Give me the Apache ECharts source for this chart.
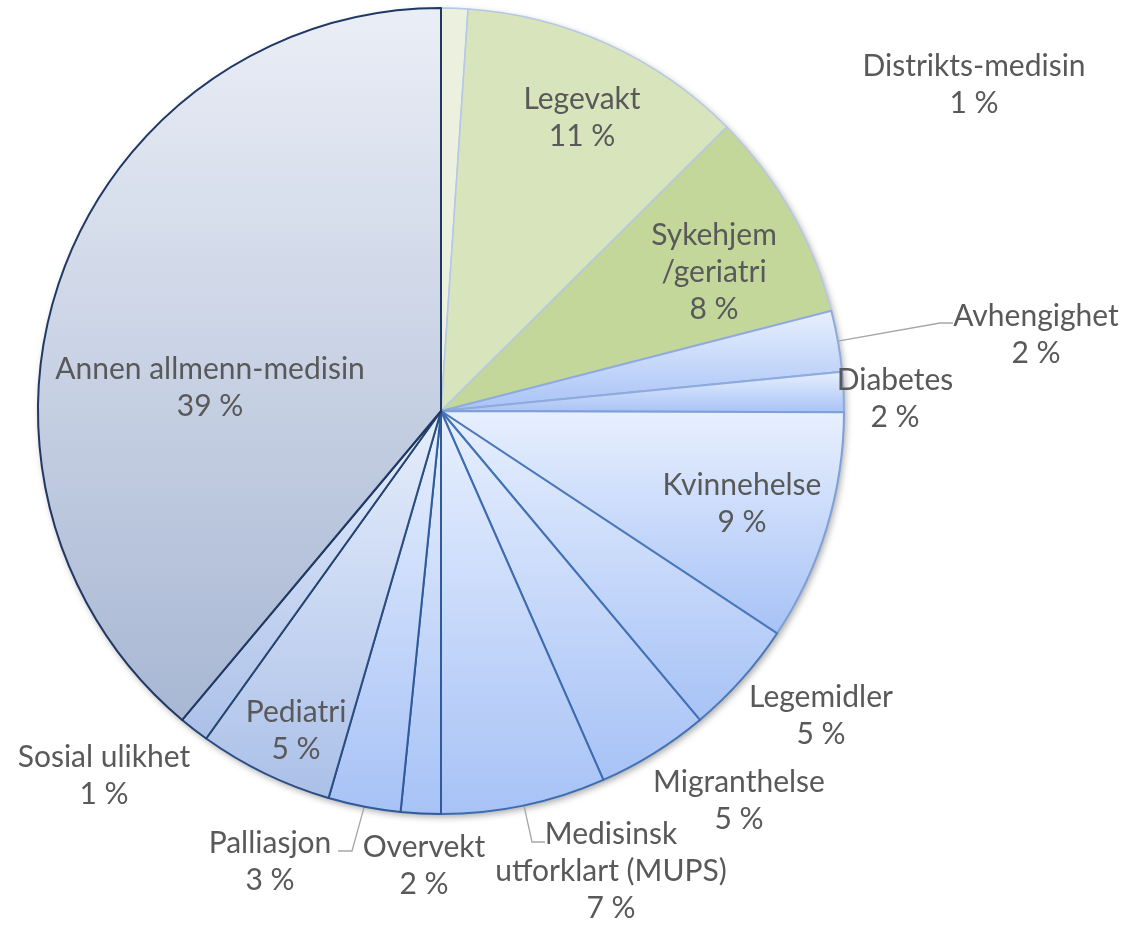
<!DOCTYPE html>
<html>
<head>
<meta charset="utf-8">
<script src="https://cdn.jsdelivr.net/npm/echarts@6/dist/echarts.min.js"></script>
<style>
  html, body { margin: 0; padding: 0; background: #ffffff; }
  #chart { width: 1122px; height: 925px; }
</style>
</head>
<body>
<div id="chart"></div>
<script>
// ---- data ----
const categories = [
  'Distrikts-medisin', 'Legevakt', 'Sykehjem\n/geriatri', 'Avhengighet', 'Diabetes',
  'Kvinnehelse', 'Legemidler', 'Migranthelse', 'Medisinsk\nutforklart (MUPS)',
  'Overvekt', 'Palliasjon', 'Pediatri', 'Sosial ulikhet', 'Annen allmenn-medisin'
];
const shares = [1.07, 11.48, 8.45, 2.45, 1.6, 9.25, 4.6, 4.5, 6.6, 1.6, 2.9, 5.4, 1.2, 38.9];

// ---- layout & style (not data) ----
const CX = 441, CY = 411, R = 403;
const TEXT = '#595959';
const labelAt = {
  0: [974, 85], 1: [582, 118], 2: [714, 272], 3: [1036, 335], 4: [895, 399],
  5: [742, 504], 6: [821, 716], 7: [739, 801], 8: [611, 871], 9: [424, 866],
  10: [270, 862], 11: [296, 731], 12: [104, 776], 13: [210, 388]
};
const leaders = {
  3: [[940, 323], [953, 323]],
  8: [[532, 842], [545, 842]],
  10: [[352, 851], [338, 851]]
};
function grad(top, bottom) {
  return new echarts.graphic.LinearGradient(0, 0, 0, 1, [
    { offset: 0, color: top }, { offset: 1, color: bottom }
  ]);
}
const fills = [
  '#ebf1de', '#d8e4bc', '#c4d79b',
  grad('#e8f0fe', '#a7c2f6'), grad('#e8f0fe', '#a7c2f6'), grad('#e8f0fe', '#a7c2f6'),
  grad('#e8f0fe', '#a7c2f6'), grad('#e8f0fe', '#a7c2f6'), grad('#e8f0fe', '#a7c2f6'),
  grad('#e8f0fe', '#a7c2f6'), grad('#e8f0fe', '#a7c2f6'),
  grad('#e6eefc', '#abc0e8'), grad('#e6eefc', '#abc0e8'),
  grad('#eaeef6', '#a8b7d3')
];
const borders = [
  '#b4c7e7', '#b4c7e7', '#b4c7e7', '#8faadc', '#8faadc', '#7e9fd8', '#4a78b9',
  '#4272b5', '#3d6cb0', '#2f5a9c', '#2f5a9c', '#2a4d82', '#24436f', '#203864'
];
const total = shares.reduce((a, b) => a + b, 0);
function midAngle(i) {
  let cum = 0;
  for (let k = 0; k < i; k++) cum += shares[k];
  return ((cum + shares[i] / 2) / total) * 2 * Math.PI;
}

const data = categories.map((name, i) => ({
  name: name,
  value: shares[i],
  itemStyle: { color: fills[i], borderColor: borders[i], borderWidth: i < 3 ? 1.5 : 2 },
  labelLine: { show: !!leaders[i] }
}));

const chart = echarts.init(document.getElementById('chart'), null, { renderer: 'canvas' });
chart.setOption({
  animation: false,
  backgroundColor: '#ffffff',
  series: [
    {
      type: 'pie',
      silent: true,
      center: [CX, CY],
      radius: R,
      z: 1,
      label: { show: false },
      labelLine: { show: false },
      itemStyle: {
        color: '#ffffff',
        shadowBlur: 7,
        shadowOffsetX: 2,
        shadowOffsetY: 3,
        shadowColor: 'rgba(0,0,0,0.35)'
      },
      data: [{ value: total, name: '' }]
    },
    {
      type: 'pie',
      z: 2,
      center: [CX, CY],
      radius: R,
      startAngle: 90,
      clockwise: true,
      avoidLabelOverlap: false,
      data: data,
      label: {
        show: true,
        position: 'outside',
        color: TEXT,
        fontFamily: 'Lato',
        fontSize: 30,
        lineHeight: 37,
        align: 'center',
        formatter: function (p) {
          return p.name + '\n' + Math.round(p.percent) + ' %';
        }
      },
      labelLine: {
        show: false,
        lineStyle: { color: '#a6a6a6', width: 1.3 }
      },
      emphasis: { disabled: true },
      labelLayout: function (p) {
        const i = p.dataIndex;
        const pos = labelAt[i];
        const out = { x: pos[0], y: pos[1], align: 'center', verticalAlign: 'middle' };
        if (leaders[i]) {
          const a = midAngle(i);
          const sx = CX + R * Math.sin(a), sy = CY - R * Math.cos(a);
          out.labelLinePoints = [[sx, sy], leaders[i][0], leaders[i][1]];
        }
        return out;
      }
    }
  ]
});
</script>
</body>
</html>
